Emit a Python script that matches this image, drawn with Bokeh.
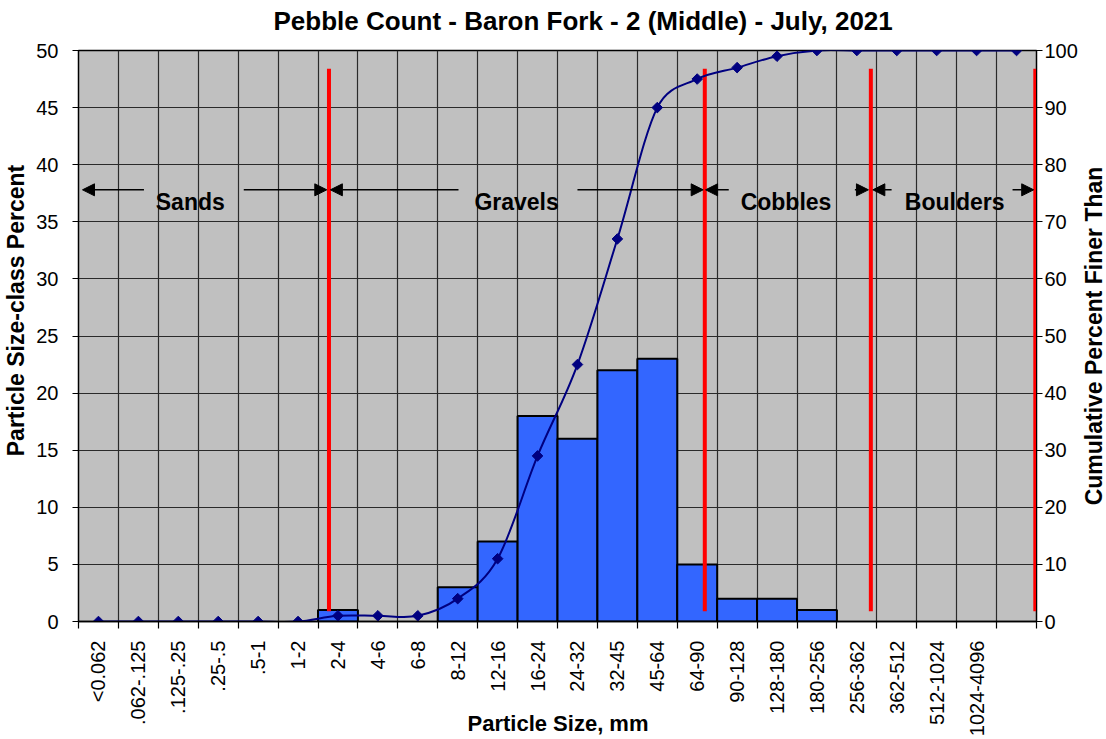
import math
from bokeh.plotting import figure
from bokeh.models import Range1d, LinearAxis, FixedTicker, Arrow, NormalHead, Label
from bokeh.embed import file_html
from bokeh.resources import INLINE

# ---------------- data ----------------
title_text = "Pebble Count - Baron Fork - 2 (Middle) - July, 2021"
x_title = "Particle Size, mm"
y_left_title = "Particle Size-class Percent"
y_right_title = "Cumulative Percent Finer Than"

categories = ["<0.062", ".062-.125", ".125-.25", ".25-.5", ".5-1", "1-2", "2-4", "4-6",
              "6-8", "8-12", "12-16", "16-24", "24-32", "32-45", "45-64", "64-90",
              "90-128", "128-180", "180-256", "256-362", "362-512", "512-1024",
              "1024-4096", ""]
class_percent = [0, 0, 0, 0, 0, 0, 1, 0, 0, 3, 7, 18, 16, 22, 23, 5, 2, 2, 1, 0, 0, 0, 0, 0]
cumulative_percent = [0, 0, 0, 0, 0, 0, 1, 1, 1, 4, 11, 29, 45, 67, 90, 95, 97, 99,
                      100, 100, 100, 100, 100, 100]

zone_names = ["Sands", "Gravels", "Cobbles", "Boulders"]
zone_label_x = [2.3, 10.475, 17.225, 21.45]
zone_label_y = 36.7
# arrows: (x_start, x_end) pairs at a common height
zone_arrows = [(1.14, -0.4), (3.64, 5.72), (9.02, 5.81), (12.0, 15.15),
               (15.79, 15.21), (18.95, 19.29), (19.87, 19.40), (22.9, 23.43)]
zone_arrow_y = 37.8
divider_x = [5.775, 15.19, 19.35, 23.47]
divider_y = (0.9, 48.4)

FONT = "Liberation Sans"
BAR_COLOR = "#3366FF"
LINE_COLOR = "#000080"

W, H = 1106, 739
ML, MR, MT, MB = 78, 68, 50, 118
FRAME_W, FRAME_H = W - ML - MR, H - MT - MB

n = len(categories)
centers = list(range(n))
bounds = [i - 0.5 for i in range(n + 1)]

p = figure(width=W, height=H,
           x_range=Range1d(-0.5, n - 0.5), y_range=Range1d(0, 50),
           output_backend="svg", toolbar_location=None,
           min_border_left=ML, min_border_right=MR,
           min_border_top=MT, min_border_bottom=MB)
p.extra_y_ranges = {"cum": Range1d(0, 100)}
p.background_fill_color = "#C0C0C0"
p.border_fill_color = "white"
p.outline_line_color = "black"
p.outline_line_width = 1.5

# grids
p.xgrid[0].ticker = FixedTicker(ticks=bounds)
p.ygrid[0].ticker = FixedTicker(ticks=list(range(0, 51, 5)))
for g in (p.xgrid[0], p.ygrid[0]):
    g.grid_line_color = "#2a2a2a"
    g.grid_line_width = 1.2

# x axis
xa = p.xaxis[0]
xa.ticker = FixedTicker(ticks=centers, minor_ticks=bounds)
xa.major_label_overrides = {c: lab for c, lab in zip(centers, categories)}
xa.major_label_orientation = math.pi / 2
xa.major_tick_line_color = None
xa.major_tick_out = 0
xa.major_tick_in = 0
xa.minor_tick_out = 7
xa.minor_tick_in = 0
xa.minor_tick_line_color = "black"
xa.minor_tick_line_width = 1.2
xa.major_label_standoff = 12
xa.major_label_text_font = FONT
xa.major_label_text_font_size = "20px"
xa.major_label_text_color = "black"
xa.axis_line_color = "black"
xa.axis_line_width = 1.5

# left axis
ya = p.yaxis[0]
ya.ticker = FixedTicker(ticks=list(range(0, 51, 5)))
ya.minor_tick_line_color = None
ya.major_tick_out = 6
ya.major_tick_in = 0
ya.major_tick_line_width = 1.2
ya.major_label_standoff = 14
ya.major_label_text_font = FONT
ya.major_label_text_font_size = "20px"
ya.major_label_text_color = "black"
ya.axis_line_color = "black"

# right axis
yr = LinearAxis(y_range_name="cum", ticker=FixedTicker(ticks=list(range(0, 101, 10))))
yr.minor_tick_line_color = None
yr.major_tick_out = 6
yr.major_tick_in = 0
yr.major_tick_line_width = 1.2
yr.major_label_standoff = 2
yr.major_label_text_font = FONT
yr.major_label_text_font_size = "20px"
yr.major_label_text_color = "black"
yr.axis_line_color = "black"
p.add_layout(yr, "right")

# axis titles as labels living in the side panels (positions relative to panel)
label_style = dict(x_units="screen", y_units="screen", text_font=FONT,
                   text_font_style="bold", text_color="black",
                   text_align="center", text_baseline="middle")
p.add_layout(Label(x=8.5, y=311, text=y_left_title, angle=math.pi / 2,
                   text_font_size="23px", **label_style), "left")
p.add_layout(Label(x=13.5, y=285.5, text=y_right_title, angle=math.pi / 2,
                   text_font_size="23px", **label_style), "right")
p.add_layout(Label(x=479.5, y=-672.5, text=x_title,
                   text_font_size="22px", **label_style), "above")

# title (outermost in the top panel)
p.title.text = title_text
p.title.align = "left"
p.title.offset = 195
p.title.vertical_align = "bottom"
p.title.standoff = -21
p.title.text_font = FONT
p.title.text_font_style = "bold"
p.title.text_font_size = "26px"
p.title.text_color = "black"

# bars
bx = [c for c, v in zip(centers, class_percent) if v > 0]
bt = [v for v in class_percent if v > 0]
p.vbar(x=bx, top=bt, width=1.0, bottom=0, fill_color=BAR_COLOR,
       line_color="black", line_width=2)

# red dividers
p.segment(x0=divider_x, y0=[divider_y[0]] * len(divider_x),
          x1=divider_x, y1=[divider_y[1]] * len(divider_x),
          line_color="#FF0000", line_width=4)

# smoothed cumulative curve: Excel-like Bezier smoothing, arm lengths capped
# at half the segment length (computed in pixel proportions)
sx = FRAME_W / n
sy = FRAME_H / 100.0
pts = list(zip(centers, cumulative_percent))


def dist(a, b):
    return math.hypot((a[0] - b[0]) * sx, (a[1] - b[1]) * sy)


x0s, y0s, x1s, y1s, cx0, cy0, cx1, cy1 = [], [], [], [], [], [], [], []
for i in range(len(pts) - 1):
    pa = pts[max(i - 1, 0)]
    pb = pts[i]
    pc = pts[i + 1]
    pd = pts[min(i + 2, len(pts) - 1)]
    d12 = dist(pb, pc)
    d02 = dist(pa, pc)
    d13 = dist(pb, pd)
    f1 = 1 / 6.0
    f2 = 1 / 6.0
    if d02 > 0 and d02 / 6.0 >= d12 / 2.0:
        f1 = d12 / d02 / 2.0
    if d13 > 0 and d13 / 6.0 >= d12 / 2.0:
        f2 = d12 / d13 / 2.0
    x0s.append(pb[0]); y0s.append(pb[1])
    x1s.append(pc[0]); y1s.append(pc[1])
    cx0.append(pb[0] + f1 * (pc[0] - pa[0]))
    cy0.append(pb[1] + f1 * (pc[1] - pa[1]))
    cx1.append(pc[0] - f2 * (pd[0] - pb[0]))
    cy1.append(pc[1] - f2 * (pd[1] - pb[1]))
p.bezier(x0=x0s, y0=y0s, x1=x1s, y1=y1s, cx0=cx0, cy0=cy0, cx1=cx1, cy1=cy1,
         line_color=LINE_COLOR, line_width=2, y_range_name="cum")
p.scatter(x=centers, y=cumulative_percent, marker="square", angle=math.pi / 4, size=7.5,
          fill_color=LINE_COLOR, line_color=LINE_COLOR, y_range_name="cum")

# zone arrows and names
for xs, xe in zone_arrows:
    p.add_layout(Arrow(end=NormalHead(size=12, fill_color="black", line_color="black"),
                       x_start=xs, y_start=zone_arrow_y, x_end=xe, y_end=zone_arrow_y,
                       line_color="black", line_width=1.6))
for name, lx in zip(zone_names, zone_label_x):
    p.add_layout(Label(x=lx, y=zone_label_y, text=name, text_font=FONT,
                       text_font_style="bold", text_font_size="23px",
                       text_align="center", text_baseline="middle", text_color="black"))

open("out.html", "w").write(file_html(p, INLINE))
